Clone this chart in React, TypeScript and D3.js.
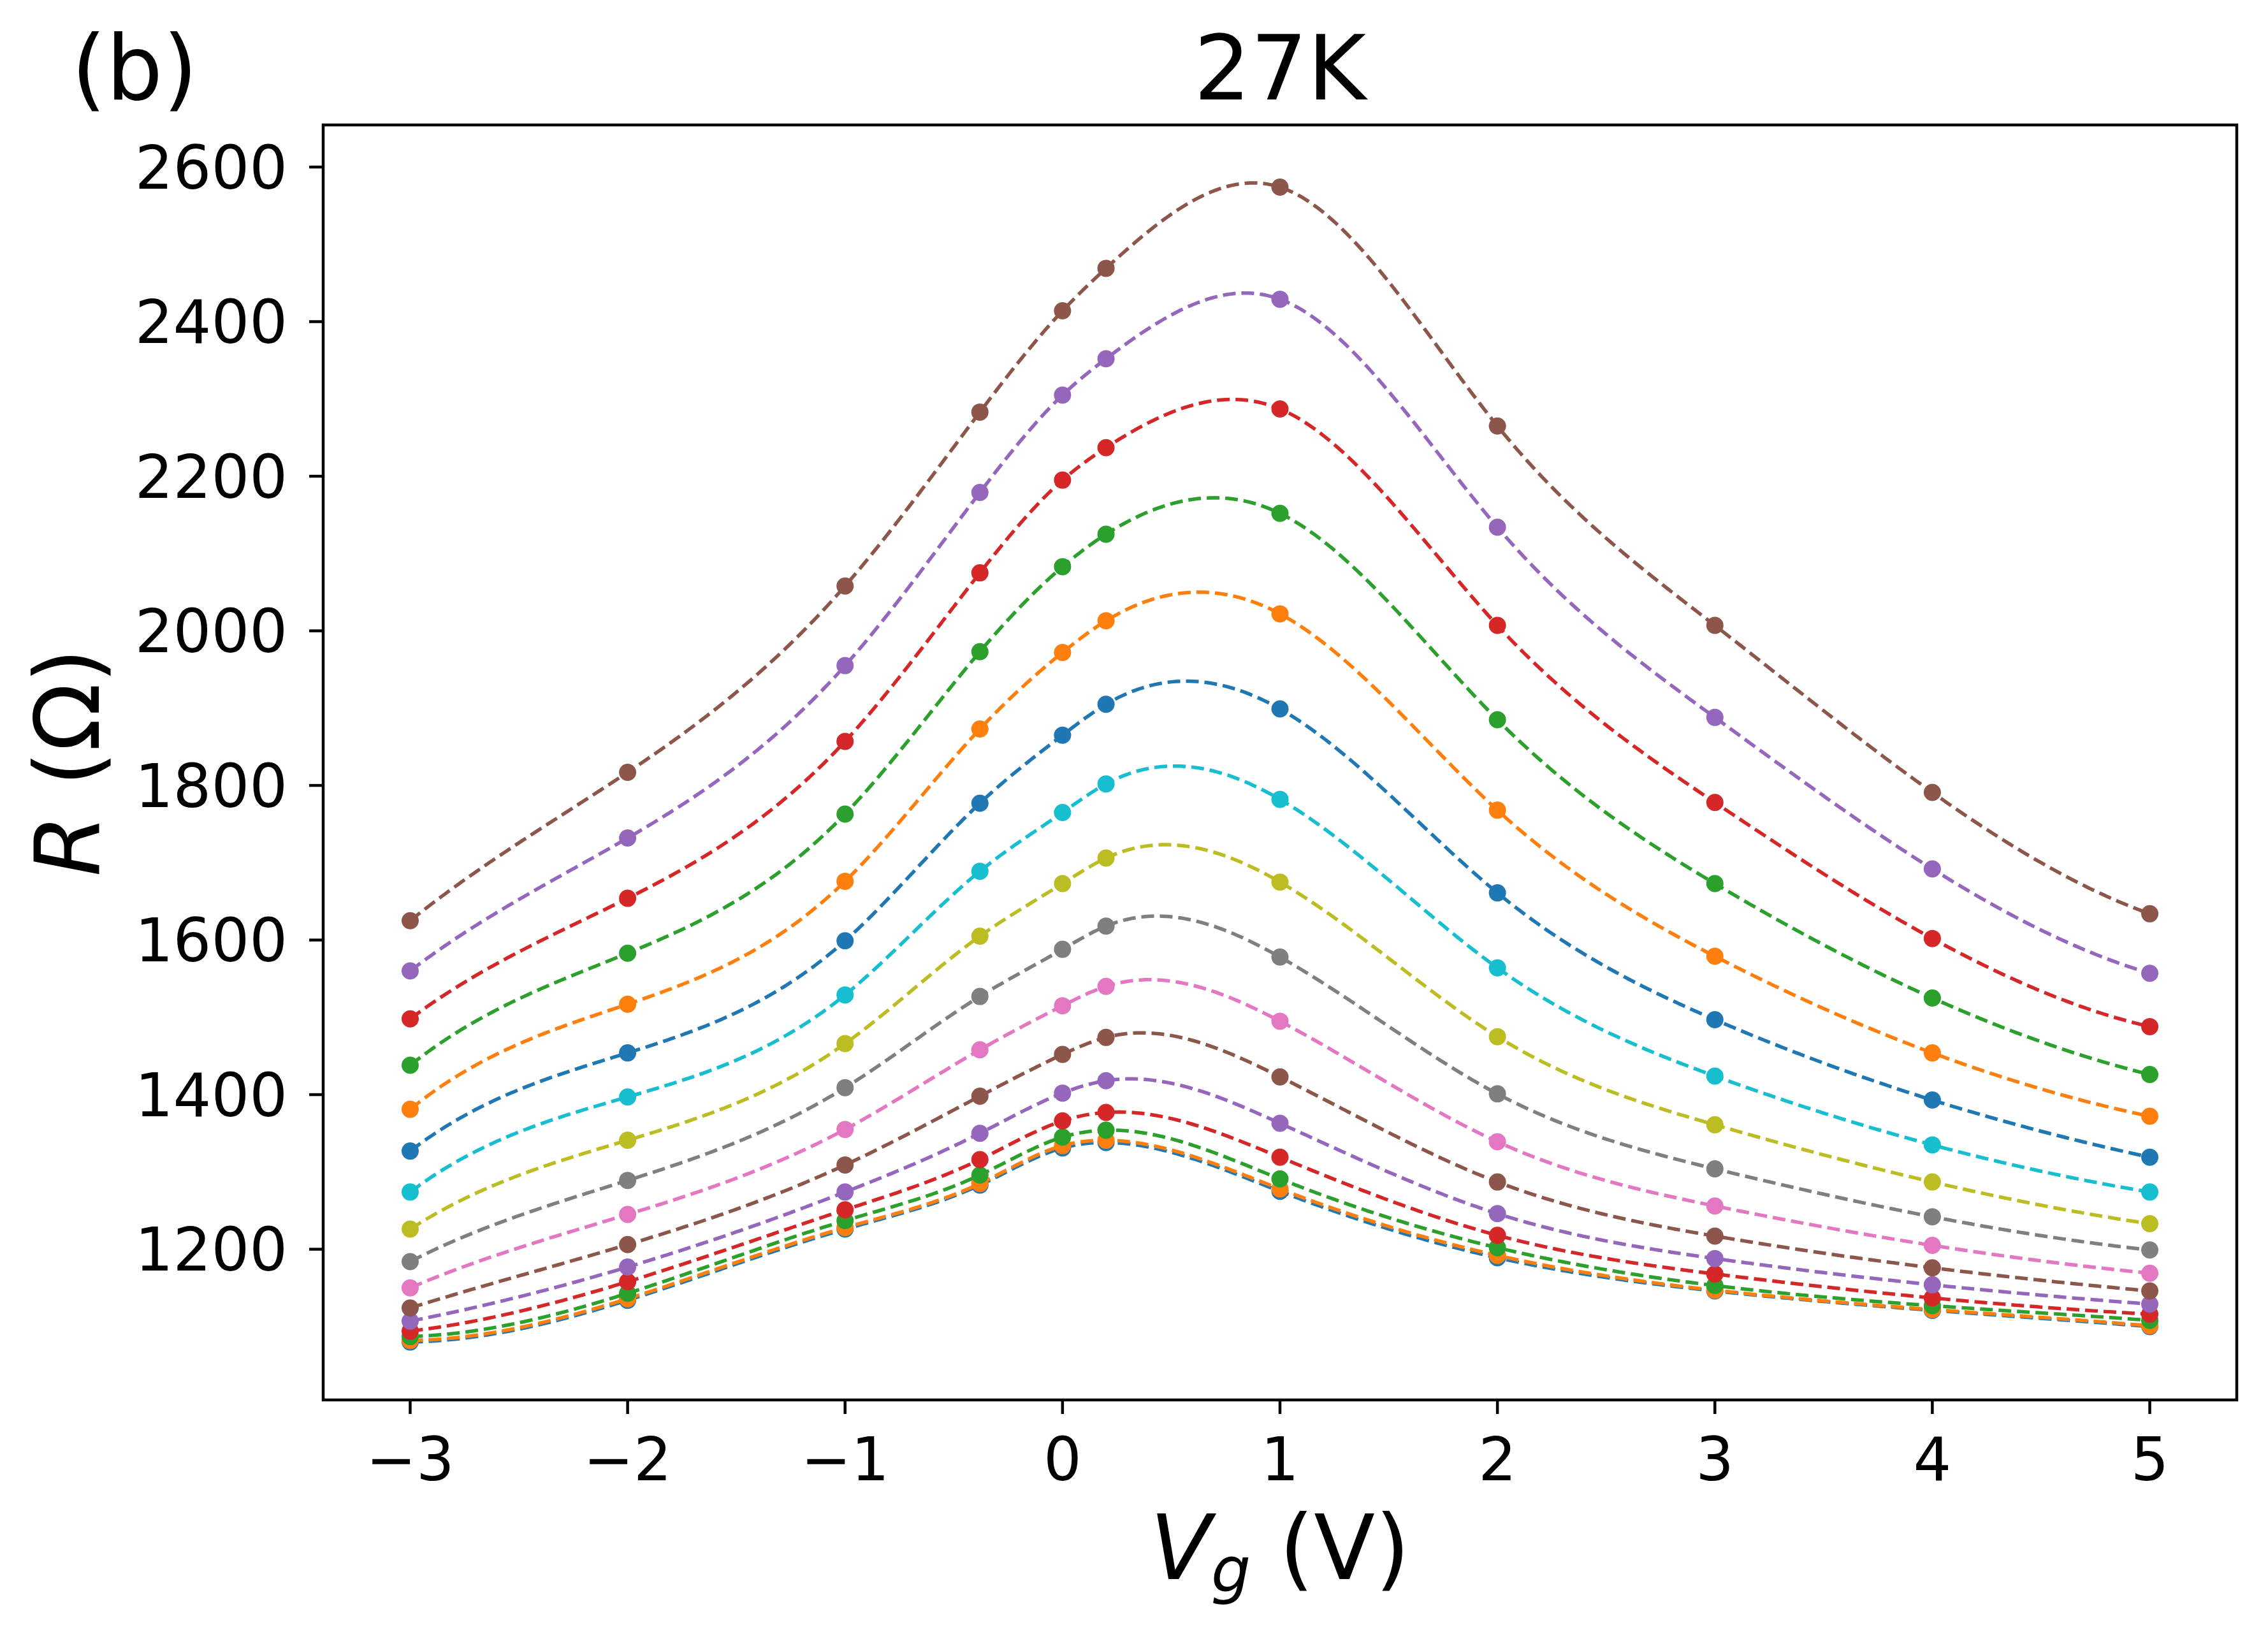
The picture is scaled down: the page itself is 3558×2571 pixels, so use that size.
import React from "react";
import * as d3 from "d3";

// gate voltages where R was measured
const vg = [-3, -2, -1, -0.38, 0, 0.2, 1, 2, 3, 4, 5];

// R(Vg) curves, bottom to top
const r00 = [1080, 1134, 1226, 1283, 1331, 1338, 1275, 1189, 1146, 1121, 1100];
const r01 = [1082, 1136, 1228, 1285, 1334, 1341, 1278, 1192, 1147, 1122, 1101];
const r02 = [1087, 1143, 1237, 1296, 1345, 1354, 1291, 1202, 1153, 1127, 1108];
const r03 = [1094, 1158, 1251, 1316, 1366, 1377, 1319, 1218, 1168, 1137, 1116];
const r04 = [1107, 1177, 1274, 1350, 1402, 1418, 1363, 1246, 1188, 1154, 1129];
const r05 = [1124, 1206, 1309, 1398, 1452, 1474, 1423, 1287, 1217, 1176, 1146];
const r06 = [1150, 1245, 1355, 1458, 1515, 1540, 1495, 1339, 1256, 1205, 1169];
const r07 = [1184, 1289, 1409, 1527, 1588, 1618, 1578, 1401, 1304, 1242, 1199];
const r08 = [1226, 1341, 1466, 1605, 1673, 1706, 1675, 1475, 1361, 1287, 1233];
const r09 = [1274, 1397, 1529, 1689, 1765, 1802, 1782, 1564, 1424, 1335, 1274];
const r10 = [1327, 1454, 1599, 1777, 1865, 1905, 1899, 1661, 1497, 1393, 1319];
const r11 = [1381, 1517, 1676, 1873, 1972, 2013, 2022, 1768, 1579, 1454, 1372];
const r12 = [1438, 1583, 1763, 1973, 2083, 2125, 2152, 1885, 1673, 1525, 1426];
const r13 = [1498, 1654, 1857, 2075, 2195, 2237, 2287, 2007, 1778, 1602, 1488];
const r14 = [1560, 1732, 1955, 2179, 2305, 2352, 2429, 2134, 1888, 1692, 1557];
const r15 = [1625, 1817, 2058, 2283, 2414, 2469, 2574, 2265, 2007, 1791, 1634];

const series = [r00, r01, r02, r03, r04, r05, r06, r07, r08, r09, r10, r11, r12, r13, r14, r15];

const xTicks = [-3, -2, -1, 0, 1, 2, 3, 4, 5];
const yTicks = [1200, 1400, 1600, 1800, 2000, 2200, 2400, 2600];

const W = 3558, H = 2571;
const left = 507, right = 3509, top = 196, bottom = 2196;
const font = "DejaVu Sans";

// cubic spline (not-a-knot), same as the dashed guide lines of the figure
function spline(xs: number[], ys: number[]) {
  const n = xs.length;
  const h = xs.slice(1).map((x, i) => x - xs[i]);
  const A = Array.from({ length: n }, () => new Array(n).fill(0));
  const b = new Array(n).fill(0);
  A[0][0] = h[1]; A[0][1] = -(h[0] + h[1]); A[0][2] = h[0];
  for (let i = 1; i < n - 1; i++) {
    A[i][i - 1] = h[i - 1];
    A[i][i] = 2 * (h[i - 1] + h[i]);
    A[i][i + 1] = h[i];
    b[i] = 6 * ((ys[i + 1] - ys[i]) / h[i] - (ys[i] - ys[i - 1]) / h[i - 1]);
  }
  A[n - 1][n - 3] = h[n - 2]; A[n - 1][n - 2] = -(h[n - 3] + h[n - 2]); A[n - 1][n - 1] = h[n - 3];
  // gaussian elimination
  for (let c = 0; c < n; c++) {
    let p = c;
    for (let r = c + 1; r < n; r++) if (Math.abs(A[r][c]) > Math.abs(A[p][c])) p = r;
    [A[c], A[p]] = [A[p], A[c]];
    [b[c], b[p]] = [b[p], b[c]];
    for (let r = c + 1; r < n; r++) {
      const f = A[r][c] / A[c][c];
      for (let k = c; k < n; k++) A[r][k] -= f * A[c][k];
      b[r] -= f * b[c];
    }
  }
  const M = new Array(n).fill(0);
  for (let r = n - 1; r >= 0; r--) {
    let s = b[r];
    for (let k = r + 1; k < n; k++) s -= A[r][k] * M[k];
    M[r] = s / A[r][r];
  }
  return (x: number) => {
    let i = 0;
    while (i < n - 2 && x > xs[i + 1]) i++;
    const hi = h[i], a = xs[i + 1] - x, d = x - xs[i];
    return M[i] * a * a * a / (6 * hi) + M[i + 1] * d * d * d / (6 * hi)
      + (ys[i] / hi - M[i] * hi / 6) * a + (ys[i + 1] / hi - M[i + 1] * hi / 6) * d;
  };
}

const fine = d3.range(0, 401).map(k => vg[0] + (vg[vg.length - 1] - vg[0]) * k / 400);
const curves = series.map(ys => {
  const f = spline(vg, ys);
  return fine.map(x => [x, f(x)] as [number, number]);
});

const App = () => {
  const xExt = d3.extent(vg) as [number, number];
  const xPad = (xExt[1] - xExt[0]) * 0.05;
  const x = d3.scaleLinear().domain([xExt[0] - xPad, xExt[1] + xPad]).range([left, right]);

  const allY = curves.flat().map(d => d[1]).concat(series.flat());
  const yExt = d3.extent(allY) as [number, number];
  const yPad = (yExt[1] - yExt[0]) * 0.05;
  const y = d3.scaleLinear().domain([yExt[0] - yPad, yExt[1] + yPad]).range([bottom, top]);

  const line = d3.line<[number, number]>().x(d => x(d[0])).y(d => y(d[1]));
  const colors = d3.schemeCategory10;
  const fmt = (v: number) => (v < 0 ? "\u2212" + Math.abs(v) : String(v));

  return (
    <svg width={W} height={H} style={{ position: "absolute", left: 0, top: 0, background: "#fff" }}
      fontFamily={font}>
      <rect width={W} height={H} fill="#fff" />
      <defs>
        <clipPath id="plot">
          <rect x={left} y={top} width={right - left} height={bottom - top} />
        </clipPath>
      </defs>
      <g clipPath="url(#plot)">
        {series.map((ys, i) => (
          <g key={i}>
            {ys.map((v, j) => (
              <circle key={j} cx={x(vg[j])} cy={y(v)} r={13.5} fill={colors[i % 10]} />
            ))}
            <path d={line(curves[i]) || ""} fill="none" stroke={colors[i % 10]}
              strokeWidth={5.5} strokeDasharray="20,9" />
          </g>
        ))}
      </g>
      <rect x={left} y={top} width={right - left} height={bottom - top} fill="none" stroke="#000" strokeWidth={4.5} />
      {xTicks.map(t => (
        <g key={t}>
          <line x1={x(t)} x2={x(t)} y1={bottom} y2={bottom + 22} stroke="#000" strokeWidth={4.5} />
          <text x={x(t)} y={2322} fontSize={94} textAnchor="middle">{fmt(t)}</text>
        </g>
      ))}
      {yTicks.map(t => (
        <g key={t}>
          <line x1={left - 22} x2={left} y1={y(t)} y2={y(t)} stroke="#000" strokeWidth={4.5} />
          <text x={451} y={y(t)} dy="0.36em" fontSize={94} textAnchor="end">{t}</text>
        </g>
      ))}
      <text x={(left + right) / 2} y={156} fontSize={140} textAnchor="middle">27K</text>
      <text x={112} y={156} fontSize={140}>(b)</text>
      <text x={(left + right) / 2} y={2477} fontSize={140} textAnchor="middle">
        <tspan fontStyle="italic">V</tspan>
        <tspan fontStyle="italic" fontSize={98} dy={20}>g</tspan>
        <tspan dy={-20}>{"\u00a0(V)"}</tspan>
      </text>
      <text transform={`translate(155,${(top + bottom) / 2}) rotate(-90)`} fontSize={140} textAnchor="middle">
        <tspan fontStyle="italic">R</tspan>
        <tspan>{"\u00a0(\u03a9)"}</tspan>
      </text>
    </svg>
  );
};

export default App;
